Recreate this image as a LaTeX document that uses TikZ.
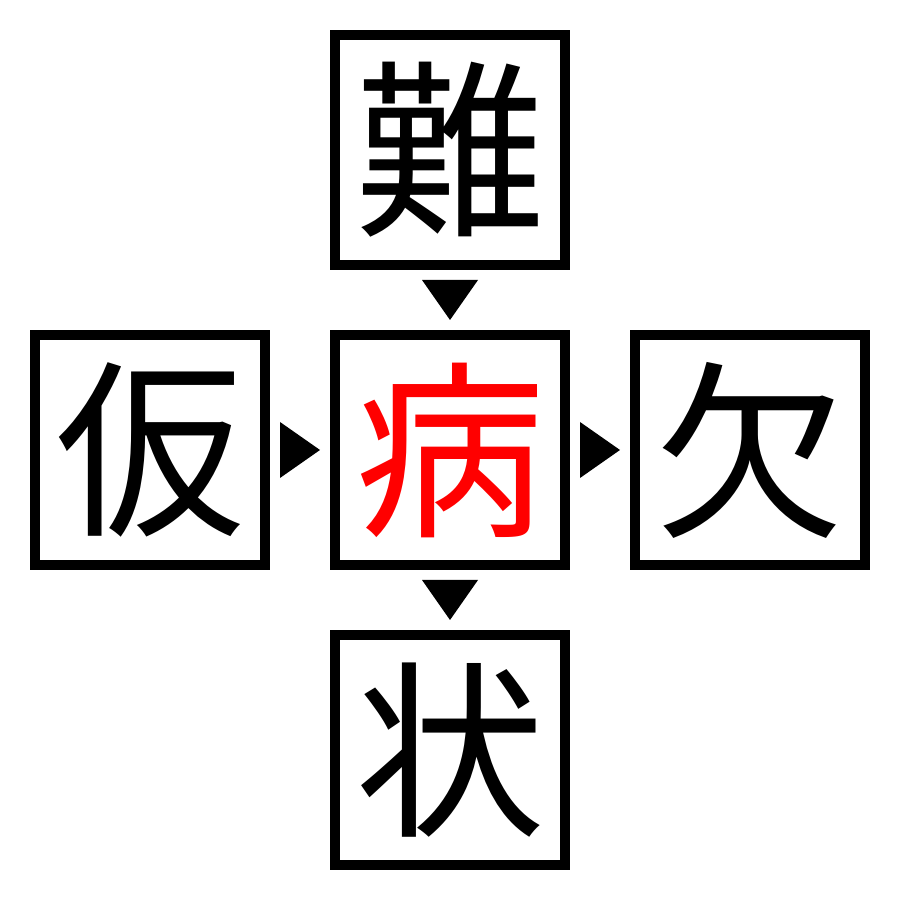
\documentclass[tikz,border=0pt]{standalone}
\usepackage{fontspec}
\newfontfamily\cjk{Noto Sans CJK JP}
\usetikzlibrary{calc}
\tikzset{
  box/.style={draw, line width=0.1cm, minimum size=2.3cm, inner sep=0pt,
    font=\cjk\fontsize{54}{54}\selectfont},
}
\begin{document}
\begin{tikzpicture}
      \useasboundingbox (0,0) rectangle (9,9);
      \draw
        (4.5,7.5) node[box] (top){難}
        (1.5,4.5) node[box] (left){仮}
        (4.5,4.5) node[box, text=red] (mid){病}
        (7.5,4.5) node[box] (right){欠}
        (4.5,1.5) node[box] (bottom){状};
      \coordinate (a) at ($(top.south)!0.5!(mid.north)$);
      \coordinate (b) at ($(left.east)!0.5!(mid.west)$);
      \coordinate (c) at ($(mid.east)!0.5!(right.west)$);
      \coordinate (d) at ($(mid.south)!0.5!(bottom.north)$);
      \begin{scope}[fill=black]
        \fill (a) ++(-0.28,0.2) -- ++(0.56,0) -- ++(-0.28,-0.4) -- cycle;
        \fill (b) ++(-0.2,0.28) -- ++(0,-0.56) -- ++(0.4,0.28) -- cycle;
        \fill (c) ++(-0.2,0.28) -- ++(0,-0.56) -- ++(0.4,0.28) -- cycle;
        \fill (d) ++(-0.28,0.2) -- ++(0.56,0) -- ++(-0.28,-0.4) -- cycle;
      \end{scope}
    \end{tikzpicture}
\end{document}
